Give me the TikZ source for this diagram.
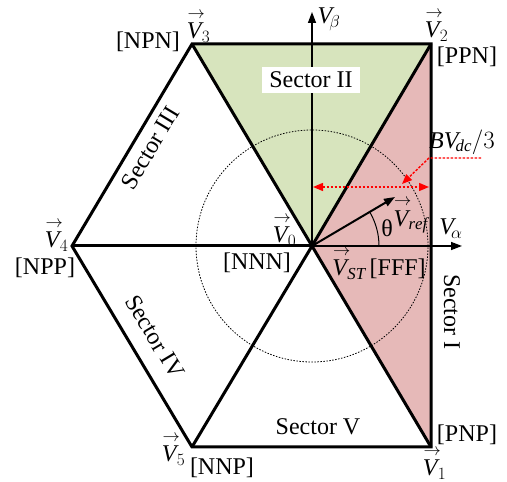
\documentclass[tikz,border=0pt]{standalone}
\usepackage{amsmath}
\usepackage{fontspec}
\setmainfont{Liberation Serif}
\usepackage{tikz}
\usetikzlibrary{arrows.meta}

\definecolor{secgreen}{RGB}{215,228,189}
\definecolor{secpink}{RGB}{230,185,184}
\newcommand{\vecV}[1]{$\overset{\mkern4mu\rightarrow}{\mathit{V}}_{\!#1}$}

\begin{document}
\begin{tikzpicture}[x=1pt, y=1pt,
    >={Triangle[length=11pt, width=8pt]},
    every node/.style={font=\fontsize{24}{28}\selectfont, inner sep=1pt},
    edge/.style={line width=3pt, line join=miter},
    axis/.style={line width=1.4pt, ->},
    reddot/.style={red, line width=1.4pt, dash pattern=on 2.5pt off 1.5pt,
                   {Triangle[length=10pt, width=8pt]}-{Triangle[length=10pt, width=8pt]}}]
  \useasboundingbox (0,0) rectangle (507,482);
  % switching vectors
  \coordinate (O)  at (312,236);
  \coordinate (V1) at (431,35);
  \coordinate (V2) at (431,438);
  \coordinate (V3) at (192,438);
  \coordinate (V4) at (72,236);
  \coordinate (V5) at (192,35);
  % sectors I and II
  \fill[secgreen] (O) -- (V3) -- (V2) -- cycle;
  \fill[secpink] (O) -- (V2) -- (V1) -- cycle;
  % dotted circle
  \draw[line width=0.8pt, dash pattern=on 1.5pt off 1.5pt] (O) circle[radius=116];
  % axes
  \coordinate (Vb) at (312,470);
  \coordinate (Va) at (462,236);
  \draw[axis] (O) -- (Vb);
  \draw[axis] (O) -- (Va);
  \node (lblVb) at (329,463) {$\mathit{V}_{\!\beta}$};
  \node (lblVa) at (451,253) {$\mathit{V}_{\!\alpha}$};
  % reference vector
  \coordinate (Vr) at (395,285);
  \draw[line width=2pt, ->] (O) -- (Vr);
  \draw[line width=1pt] ([shift={(0:67)}]O) arc[start angle=0, end angle=30.6, radius=67];
  \node (theta) at (387,254) {θ};
  \node (lblVr) at (409,267) {\vecV{\mathit{ref}}};
  % hexagon
  \draw[edge] (V3) -- (V2) -- (V1) -- (V5) -- (V4) -- cycle;
  \foreach \v in {V1,V2,V3,V4,V5}{\draw[edge] (O) -- (\v);}
  % B Vdc / 3
  \coordinate (r1) at (313,295);
  \coordinate (r2) at (429,295);
  \draw[reddot] (r1) -- (r2);
  \coordinate (b1) at (481,324);
  \coordinate (b2) at (429,324);
  \coordinate (b3) at (402,298);
  \draw[red, line width=1.4pt, dash pattern=on 2.5pt off 1.5pt,
        -{Triangle[length=10pt, width=8pt]}] (b1) -- (b2) -- (b3);
  \node (lblB) at (462,340) {$\mathit{BV}_{\!\mathit{dc}}/3$};
  % sector labels
  \node[fill=white, inner xsep=7pt, inner ysep=5pt] (secII) at (311,402) {Sector II};
  \node[rotate=59] (secIII) at (150,334) {Sector III};
  \node[rotate=-59] (secIV) at (155,145) {Sector IV};
  \node (secV) at (318,55) {Sector V};
  \node[rotate=-90] (secI) at (452,170) {Sector I};
  % vector labels
  \node[inner sep=0pt] (lblV3) at (197,456) {\vecV{3}};
  \node (stV3) at (148,440) {[NPN]};
  \node[inner sep=0pt] (lblV2) at (435,457) {\vecV{2}};
  \node (stV2) at (467,425) {[PPN]};
  \node (lblV4) at (55,247) {\vecV{4}};
  \node (stV4) at (45,214) {[NPP]};
  \node (lblV0) at (283,252) {\vecV{0}};
  \node (stV0) at (257,219) {[NNN]};
  \node[anchor=west] (lblVst) at (328,219) {\vecV{\mathit{ST}}\,[FFF]};
  \node (lblV5) at (172,33) {\vecV{5}};
  \node (stV5) at (222,14) {[NNP]};
  \node[inner sep=0pt] (lblV1) at (433,19) {\vecV{1}};
  \node (stV1) at (467,47) {[PNP]};
\end{tikzpicture}
\end{document}
